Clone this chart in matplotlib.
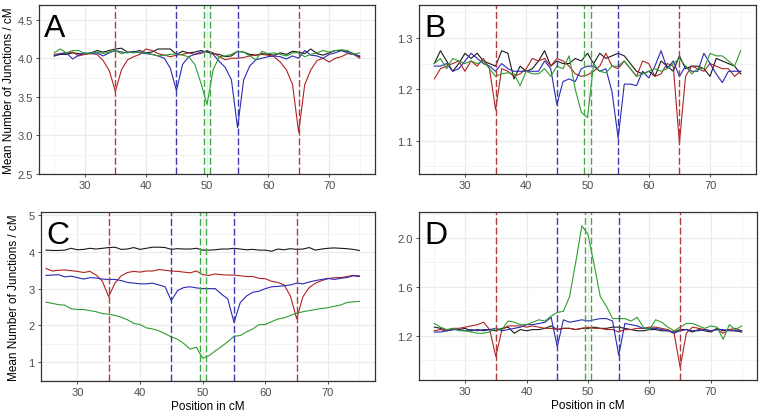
import numpy as np
import matplotlib
matplotlib.use('Agg')
import matplotlib.pyplot as plt
from matplotlib.ticker import MultipleLocator

plt.rcParams['font.family'] = ['Liberation Sans', 'DejaVu Sans']

pos = np.arange(25, 76)

# panel A
a_black = [4.03, 4.05, 4.05, 4.07, 4.06, 4.05, 4.07, 4.10, 4.08, 4.10, 4.12, 4.13, 4.08, 4.08, 4.10, 4.07, 4.08,
           4.12, 4.12, 4.12, 4.05, 4.09, 4.07, 4.08, 4.10, 4.08, 4.06, 4.05, 4.02, 4.03, 4.09, 4.08, 4.05, 4.04,
           4.06, 4.05, 4.04, 4.07, 4.05, 4.09, 4.08, 4.06, 4.12, 4.06, 4.04, 4.07, 4.10, 4.10, 4.09, 4.06, 4.02]
a_red = [4.05, 4.06, 4.07, 4.08, 4.03, 4.05, 4.06, 4.05, 3.97, 3.84, 3.57, 3.85, 3.98, 4.02, 4.05, 4.12, 4.10,
         4.06, 4.04, 4.02, 4.04, 4.05, 4.07, 4.05, 4.06, 4.10, 4.07, 4.02, 3.98, 4.00, 4.00, 4.01, 4.03, 4.04,
         4.05, 4.04, 4.02, 3.95, 3.85, 3.66, 3.04, 3.66, 3.85, 3.97, 4.00, 3.95, 4.00, 4.02, 4.06, 4.05, 4.00]
a_blue = [4.03, 4.06, 4.07, 3.99, 4.04, 4.07, 4.06, 4.07, 4.03, 4.07, 4.10, 4.08, 4.07, 4.09, 4.07, 4.06, 4.05,
          4.03, 4.00, 3.87, 3.58, 3.92, 4.02, 4.05, 4.08, 4.09, 4.05, 3.96, 3.88, 3.72, 3.10, 3.72, 3.90, 3.98,
          4.00, 4.02, 4.03, 4.02, 3.99, 4.03, 4.00, 4.10, 4.04, 4.03, 4.00, 4.05, 4.07, 4.10, 4.07, 4.05, 4.03]
a_green = [4.07, 4.12, 4.07, 4.10, 4.10, 4.06, 4.07, 4.08, 4.06, 4.08, 4.10, 4.06, 4.08, 4.07, 4.08, 4.07, 4.05,
           4.03, 4.04, 4.05, 4.06, 4.04, 4.02, 3.92, 3.68, 3.40, 3.85, 4.02, 4.03, 4.05, 4.09, 4.08, 4.03, 3.98,
           4.09, 4.06, 4.07, 4.05, 4.03, 4.07, 4.07, 4.02, 4.05, 4.07, 4.10, 4.08, 4.10, 4.11, 4.10, 4.05, 4.07]

# panel B
b_black = [1.25, 1.275, 1.255, 1.235, 1.25, 1.27, 1.26, 1.27, 1.255, 1.25, 1.245, 1.275, 1.27, 1.22, 1.245, 1.235,
           1.24, 1.255, 1.275, 1.245, 1.255, 1.25, 1.25, 1.26, 1.255, 1.27, 1.25, 1.27, 1.26, 1.265, 1.27, 1.265,
           1.25, 1.235, 1.23, 1.235, 1.225, 1.255, 1.245, 1.235, 1.265, 1.24, 1.245, 1.245, 1.24, 1.225, 1.26,
           1.255, 1.25, 1.245, 1.23]
b_red = [1.22, 1.24, 1.245, 1.25, 1.255, 1.235, 1.255, 1.245, 1.26, 1.24, 1.16, 1.24, 1.235, 1.225, 1.23, 1.24,
         1.26, 1.255, 1.26, 1.245, 1.26, 1.255, 1.245, 1.23, 1.225, 1.228, 1.235, 1.245, 1.27, 1.245, 1.24, 1.255,
         1.24, 1.225, 1.255, 1.25, 1.225, 1.23, 1.25, 1.245, 1.095, 1.225, 1.245, 1.24, 1.235, 1.25, 1.245, 1.24,
         1.24, 1.225, 1.235]
b_blue = [1.245, 1.245, 1.25, 1.235, 1.24, 1.255, 1.27, 1.26, 1.25, 1.245, 1.235, 1.25, 1.24, 1.235, 1.235, 1.235,
          1.235, 1.235, 1.255, 1.24, 1.17, 1.215, 1.22, 1.215, 1.24, 1.245, 1.245, 1.235, 1.24, 1.195, 1.105, 1.21,
          1.21, 1.207, 1.235, 1.222, 1.245, 1.275, 1.24, 1.255, 1.225, 1.245, 1.235, 1.235, 1.27, 1.25, 1.23,
          1.213, 1.235, 1.235, 1.235]
b_green = [1.25, 1.26, 1.24, 1.26, 1.255, 1.25, 1.255, 1.25, 1.255, 1.24, 1.225, 1.23, 1.232, 1.23, 1.207, 1.235,
           1.23, 1.23, 1.24, 1.225, 1.245, 1.24, 1.265, 1.2, 1.155, 1.145, 1.25, 1.235, 1.232, 1.245, 1.245, 1.255,
           1.24, 1.225, 1.23, 1.235, 1.24, 1.235, 1.24, 1.25, 1.26, 1.245, 1.23, 1.24, 1.24, 1.27, 1.265, 1.265,
           1.255, 1.245, 1.275]

# panel C
c_black = [4.05, 4.04, 4.04, 4.05, 4.10, 4.06, 4.07, 4.10, 4.08, 4.10, 4.12, 4.13, 4.07, 4.08, 4.12, 4.07, 4.10,
           4.13, 4.13, 4.12, 4.07, 4.09, 4.08, 4.08, 4.10, 4.05, 4.05, 4.06, 4.08, 4.08, 4.10, 4.08, 4.06, 4.07,
           4.05, 4.05, 4.02, 4.08, 4.06, 4.09, 4.07, 4.08, 4.12, 4.05, 4.08, 4.10, 4.11, 4.10, 4.09, 4.07, 4.04]
c_red = [3.55, 3.48, 3.50, 3.51, 3.49, 3.47, 3.44, 3.47, 3.37, 3.20, 2.78, 3.15, 3.35, 3.44, 3.47, 3.45, 3.48,
         3.48, 3.52, 3.50, 3.48, 3.47, 3.45, 3.43, 3.48, 3.38, 3.36, 3.40, 3.38, 3.37, 3.37, 3.35, 3.33, 3.33,
         3.28, 3.27, 3.20, 3.17, 3.10, 2.80, 2.18, 2.78, 3.03, 3.15, 3.22, 3.27, 3.30, 3.30, 3.33, 3.36, 3.35]
c_blue = [3.36, 3.37, 3.38, 3.32, 3.34, 3.30, 3.26, 3.30, 3.29, 3.26, 3.25, 3.25, 3.22, 3.17, 3.15, 3.13, 3.13,
          3.15, 3.10, 3.05, 2.67, 2.95, 3.03, 3.05, 3.02, 3.00, 3.00, 3.00, 2.85, 2.72, 2.08, 2.62, 2.80, 2.90,
          2.93, 3.00, 3.05, 3.06, 3.08, 3.10, 3.15, 3.13, 3.18, 3.22, 3.25, 3.28, 3.25, 3.28, 3.30, 3.35, 3.33]
c_green = [2.63, 2.60, 2.56, 2.55, 2.45, 2.43, 2.43, 2.40, 2.37, 2.32, 2.30, 2.27, 2.22, 2.15, 2.05, 2.02, 1.93,
           1.90, 1.85, 1.77, 1.68, 1.62, 1.50, 1.35, 1.40, 1.10, 1.17, 1.30, 1.42, 1.55, 1.70, 1.72, 1.82, 1.90,
           2.02, 2.02, 2.10, 2.17, 2.20, 2.27, 2.33, 2.37, 2.40, 2.43, 2.46, 2.48, 2.52, 2.55, 2.62, 2.64, 2.65]

# panel D
d_black = [1.27, 1.26, 1.24, 1.25, 1.25, 1.26, 1.24, 1.25, 1.24, 1.25, 1.24, 1.26, 1.27, 1.22, 1.25, 1.24, 1.25,
           1.25, 1.26, 1.28, 1.25, 1.26, 1.26, 1.25, 1.26, 1.26, 1.27, 1.26, 1.26, 1.27, 1.27, 1.26, 1.25, 1.24,
           1.24, 1.25, 1.25, 1.24, 1.24, 1.23, 1.25, 1.25, 1.23, 1.25, 1.24, 1.23, 1.26, 1.24, 1.25, 1.24, 1.23]
d_red = [1.24, 1.25, 1.24, 1.26, 1.26, 1.27, 1.28, 1.29, 1.31, 1.25, 1.03, 1.25, 1.28, 1.28, 1.28, 1.27, 1.28,
         1.27, 1.26, 1.26, 1.25, 1.26, 1.26, 1.25, 1.26, 1.27, 1.26, 1.26, 1.25, 1.25, 1.23, 1.25, 1.25, 1.26,
         1.26, 1.27, 1.27, 1.26, 1.25, 1.22, 0.94, 1.22, 1.27, 1.26, 1.25, 1.24, 1.25, 1.22, 1.25, 1.26, 1.24]
d_blue = [1.23, 1.23, 1.24, 1.25, 1.25, 1.24, 1.25, 1.24, 1.25, 1.25, 1.26, 1.24, 1.25, 1.26, 1.27, 1.29, 1.29,
          1.30, 1.31, 1.35, 1.11, 1.33, 1.31, 1.32, 1.33, 1.32, 1.33, 1.34, 1.34, 1.32, 1.04, 1.30, 1.29, 1.28,
          1.26, 1.26, 1.26, 1.25, 1.24, 1.22, 1.24, 1.25, 1.24, 1.24, 1.25, 1.24, 1.25, 1.25, 1.24, 1.24, 1.24]
d_green = [1.30, 1.27, 1.25, 1.26, 1.24, 1.24, 1.23, 1.22, 1.22, 1.23, 1.26, 1.25, 1.32, 1.31, 1.29, 1.29, 1.31,
           1.33, 1.32, 1.36, 1.39, 1.40, 1.52, 1.80, 2.10, 2.03, 1.78, 1.52, 1.44, 1.34, 1.34, 1.34, 1.32, 1.35,
           1.27, 1.25, 1.33, 1.31, 1.27, 1.24, 1.27, 1.30, 1.30, 1.28, 1.26, 1.28, 1.27, 1.17, 1.29, 1.25, 1.28]

red_marks = [35, 65]
blue_marks = [45, 55]
green_marks = [49.5, 50.5]

RED, BLUE, GREEN, BLACK = '#B22222', '#2A2AB5', '#2E9E2E', '#1A1A1A'


def panel(rect, letter, series, ylim, major, minor, xlim=(22.5, 77.5)):
    W, H = 762, 414
    l, t, r, b = rect
    ax = fig.add_axes([l / W, 1 - b / H, (r - l) / W, (b - t) / H])
    ax.set_xlim(*xlim)
    ax.set_ylim(*ylim)
    ax.xaxis.set_major_locator(MultipleLocator(10))
    ax.xaxis.set_minor_locator(MultipleLocator(5))
    ax.yaxis.set_major_locator(MultipleLocator(major))
    ax.yaxis.set_minor_locator(MultipleLocator(minor))
    ax.grid(which='major', color='#EBEBEB', lw=0.9)
    ax.grid(which='minor', color='#F3F3F3', lw=0.6)
    ax.set_axisbelow(True)
    for s in ax.spines.values():
        s.set_color('#333333')
        s.set_linewidth(0.9)
    ax.tick_params(which='major', length=2.5, width=0.6, color='#333333',
                   labelsize=8, labelcolor='#4D4D4D', pad=2)
    ax.tick_params(which='minor', length=0)
    blk, red, blu, grn = series
    ax.plot(pos, blk, color=BLACK, lw=0.8)
    ax.plot(pos, red, color=RED, lw=0.8)
    ax.plot(pos, blu, color=BLUE, lw=0.8)
    ax.plot(pos, grn, color=GREEN, lw=0.8)
    for xs, c in [(red_marks, '#B03C3C'), (blue_marks, '#3C3CB0'), (green_marks, '#44AA44')]:
        for x in xs:
            ax.axvline(x, color=c, lw=1.0, dashes=(5, 2))
    ax.text(0.015, 0.955, letter, transform=ax.transAxes, ha='left', va='top',
            fontsize=23, color='black')
    return ax


fig = plt.figure(figsize=(7.62, 4.14), dpi=100)

ax_a = panel((39, 6, 375, 175), 'A', (a_black, a_red, a_blue, a_green), (2.5, 4.69), 0.5, 0.25)
ax_b = panel((419, 6, 756, 175), 'B', (b_black, b_red, b_blue, b_green), (1.035, 1.364), 0.1, 0.05)
ax_c = panel((41, 213, 375, 382), 'C', (c_black, c_red, c_blue, c_green), (0.48, 5.09), 1, 0.5,
             xlim=(24.2, 77.5))
ax_d = panel((419, 213, 757, 381), 'D', (d_black, d_red, d_blue, d_green), (0.837, 2.213), 0.4, 0.2)

ax_a.yaxis.set_major_formatter(plt.FormatStrFormatter('%.1f'))
ax_b.yaxis.set_major_formatter(plt.FormatStrFormatter('%.1f'))
ax_d.yaxis.set_major_formatter(plt.FormatStrFormatter('%.1f'))

ylab = 'Mean Number of Junctions / cM'
ax_a.set_ylabel(ylab, fontsize=8.5, labelpad=2)
ax_c.set_ylabel(ylab, fontsize=8.5, labelpad=6)
ax_c.set_xlabel('Position in cM', fontsize=8.5, labelpad=2)
ax_d.set_xlabel('Position in cM', fontsize=8.5, labelpad=2)

fig.savefig('out.png', dpi=100)
